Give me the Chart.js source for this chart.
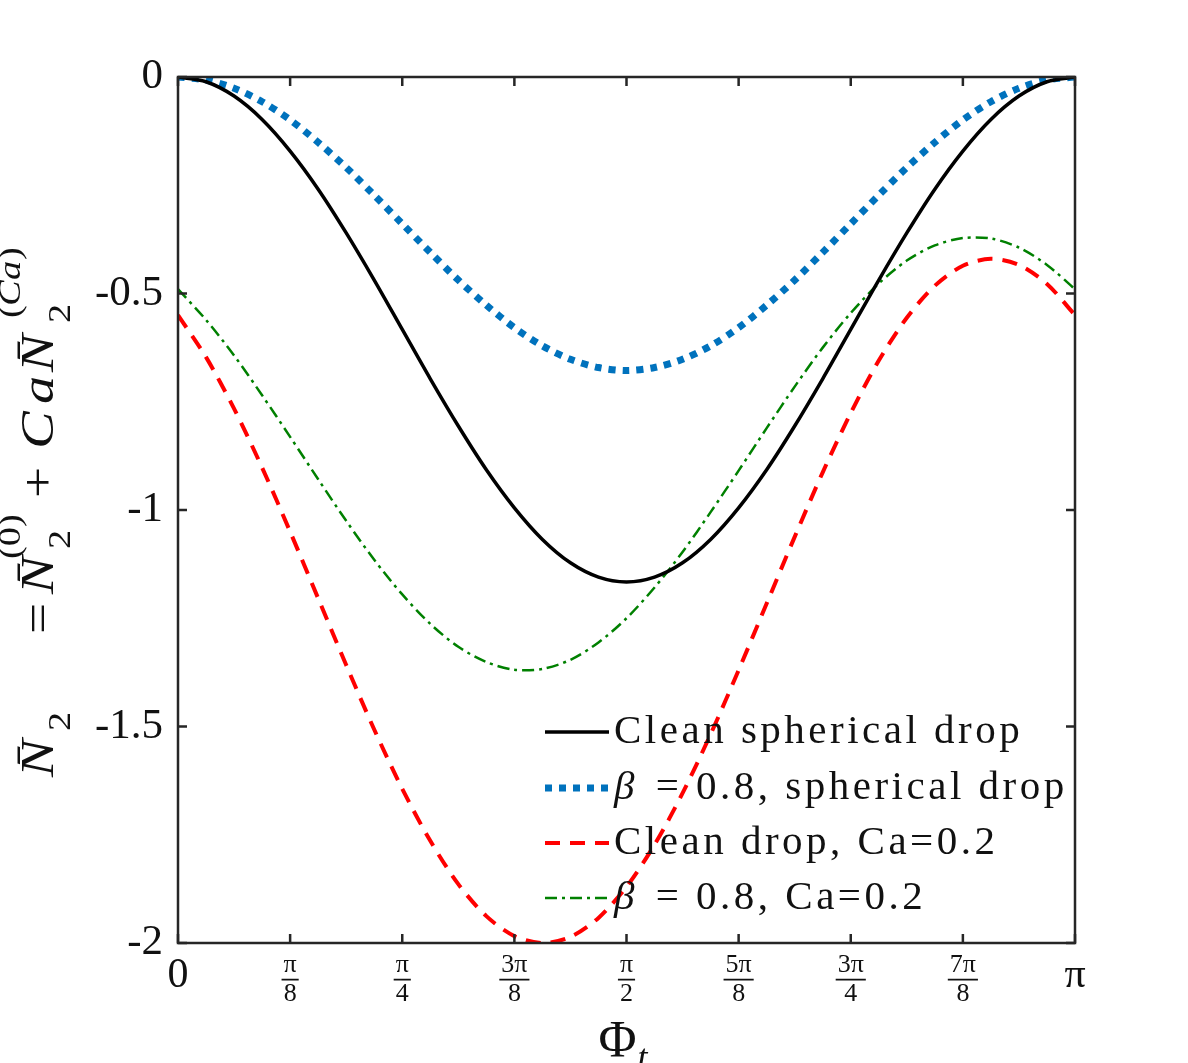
<!DOCTYPE html>
<html>
<head>
<meta charset="utf-8">
<script src="https://cdn.jsdelivr.net/npm/chart.js@4"></script>
<style>
  html, body { margin: 0; padding: 0; background: #fff; }
</style>
</head>
<body>
<canvas id="normalStressChart" width="1188" height="1063"></canvas>
<script>
// Phi_t in units of pi
const phiOverPi = [
  0, 0.03125, 0.0625, 0.09375, 0.125, 0.15625, 0.1875, 0.21875, 0.25,
  0.28125, 0.3125, 0.34375, 0.375, 0.40625, 0.4375, 0.46875, 0.5,
  0.53125, 0.5625, 0.59375, 0.625, 0.65625, 0.6875, 0.71875, 0.75,
  0.78125, 0.8125, 0.84375, 0.875, 0.90625, 0.9375, 0.96875, 1
];

const cleanSpherical = [
  0, -0.011, -0.044, -0.098, -0.171, -0.259, -0.360, -0.469, -0.583,
  -0.697, -0.806, -0.907, -0.995, -1.068, -1.122, -1.155, -1.166,
  -1.155, -1.122, -1.068, -0.995, -0.907, -0.806, -0.697, -0.583,
  -0.469, -0.360, -0.259, -0.171, -0.098, -0.044, -0.011, 0
];

const betaSpherical = [
  0, -0.007, -0.026, -0.057, -0.099, -0.151, -0.209, -0.273, -0.339,
  -0.405, -0.469, -0.527, -0.579, -0.621, -0.652, -0.671, -0.678,
  -0.671, -0.652, -0.621, -0.579, -0.527, -0.469, -0.405, -0.339,
  -0.273, -0.209, -0.151, -0.099, -0.057, -0.026, -0.007, 0
];

const cleanCa = [
  -0.550, -0.647, -0.766, -0.902, -1.050, -1.204, -1.358, -1.507, -1.644,
  -1.764, -1.864, -1.938, -1.984, -2.000, -1.986, -1.942, -1.870,
  -1.773, -1.654, -1.518, -1.370, -1.216, -1.062, -0.913, -0.776,
  -0.655, -0.556, -0.482, -0.436, -0.420, -0.434, -0.478, -0.550
];

const betaCa = [
  -0.490, -0.561, -0.643, -0.735, -0.831, -0.929, -1.025, -1.115, -1.195,
  -1.263, -1.316, -1.351, -1.369, -1.367, -1.346, -1.306, -1.250,
  -1.179, -1.097, -1.005, -0.909, -0.811, -0.715, -0.625, -0.545,
  -0.477, -0.424, -0.389, -0.372, -0.373, -0.394, -0.434, -0.490
];

const xTickValues = [0, 0.125, 0.25, 0.375, 0.5, 0.625, 0.75, 0.875, 1];
const xTickLabels = ['0', ['π', '8'], ['π', '4'], ['3π', '8'], ['π', '2'], ['5π', '8'], ['3π', '4'], ['7π', '8'], 'π'];
const yTickValues = [-2, -1.5, -1, -0.5, 0];
const yTickLabels = ['-2', '-1.5', '-1', '-0.5', '0'];

const serif = "'Liberation Serif', 'Times New Roman', serif";
const axisColor = '#262626';
const textColor = '#111';

function pts(ys) {
  return ys.map((v, i) => ({ x: phiOverPi[i], y: v }));
}

// y label pieces: text, font, offset along the axis, shift off the baseline
const R = (s) => s + 'px ' + serif;
const I = (s) => 'italic ' + s + 'px ' + serif;
const yTitle = [
  { t: 'N̄', f: I(47), at: 0, dy: 0 },
  { t: '2', f: R(32), at: 46, dy: 17 },
  { t: '=', f: R(46), at: 143, dy: 0 },
  { t: 'N̄', f: I(47), at: 183, dy: 0 },
  { t: '2', f: R(32), at: 228, dy: 17 },
  { t: '(0)', f: R(32), at: 218, dy: -33 },
  { t: '+', f: R(46), at: 279, dy: 0 },
  { t: 'C', f: I(47), at: 328, dy: 0 },
  { t: 'a', f: I(47), at: 373, dy: 0 },
  { t: 'N̄', f: I(47), at: 405, dy: 0 },
  { t: '2', f: R(32), at: 454, dy: 17 },
  { t: '(', f: R(32), at: 459, dy: -33 },
  { t: 'C', f: I(32), at: 471, dy: -33 },
  { t: 'a', f: I(32), at: 497, dy: -33 },
  { t: ')', f: R(32), at: 517, dy: -33 },
];

// box, inward ticks on all four sides, fraction bars, axis labels
const boxPlugin = {
  id: 'box',
  afterDraw(chart) {
    const { ctx, chartArea: a, scales: { x, y } } = chart;
    ctx.save();
    ctx.strokeStyle = axisColor;
    ctx.lineWidth = 2.5;
    ctx.strokeRect(a.left, a.top, a.right - a.left, a.bottom - a.top);
    ctx.beginPath();
    x.ticks.forEach((t) => {
      const px = x.getPixelForValue(t.value);
      ctx.moveTo(px, a.bottom); ctx.lineTo(px, a.bottom - 9);
      ctx.moveTo(px, a.top); ctx.lineTo(px, a.top + 9);
    });
    y.ticks.forEach((t) => {
      const py = y.getPixelForValue(t.value);
      ctx.moveTo(a.left, py); ctx.lineTo(a.left + 9, py);
      ctx.moveTo(a.right, py); ctx.lineTo(a.right - 9, py);
    });
    ctx.stroke();

    ctx.font = R(26);
    ctx.lineWidth = 1.8;
    ctx.strokeStyle = textColor;
    ctx.beginPath();
    x.ticks.forEach((t, i) => {
      const lab = xTickLabels[i];
      if (!Array.isArray(lab)) return;
      const w = Math.max(ctx.measureText(lab[0]).width, ctx.measureText(lab[1]).width) + 4;
      const px = x.getPixelForValue(t.value);
      const py = a.bottom + 8 + 28.6;
      ctx.moveTo(px - w / 2, py); ctx.lineTo(px + w / 2, py);
    });
    ctx.stroke();

    // x axis label: Phi_t
    ctx.fillStyle = textColor;
    ctx.textAlign = 'left';
    ctx.textBaseline = 'alphabetic';
    const cx = (a.left + a.right) / 2;
    ctx.font = R(52);
    ctx.fillText('Φ', cx - 28, 1057);
    ctx.font = I(36);
    ctx.fillText('t', cx + 11, 1069);

    // y axis label, rotated; glyphs widened a little to follow the LaTeX look
    ctx.translate(53, 777);
    ctx.rotate(-Math.PI / 2);
    yTitle.forEach((p) => {
      ctx.save();
      ctx.translate(p.at, p.dy);
      ctx.scale(1.2, 1);
      ctx.font = p.f;
      ctx.fillText(p.t, 0, 0);
      ctx.restore();
    });
    ctx.restore();
  }
};

// legend drawn inside the axes, lower right, no frame
const legendPlugin = {
  id: 'innerLegend',
  afterDraw(chart) {
    const { ctx } = chart;
    const rowsY = [732, 788, 843, 898];
    ctx.save();
    ctx.textBaseline = 'middle';
    ctx.textAlign = 'left';
    chart.data.datasets.forEach((ds, i) => {
      const yy = rowsY[i];
      ctx.beginPath();
      ctx.strokeStyle = ds.borderColor;
      ctx.lineWidth = ds.borderWidth;
      ctx.setLineDash(ds.borderDash || []);
      ctx.moveTo(545, yy); ctx.lineTo(609, yy);
      ctx.stroke();
      ctx.setLineDash([]);
      ctx.fillStyle = textColor;
      ctx.letterSpacing = '3.5px';
      let tx = 614;
      let text = ds.label;
      if (text.startsWith('β')) {
        ctx.font = I(41);
        ctx.fillText('β', tx, yy);
        tx += ctx.measureText('β').width + 4;
        text = text.slice(1);
      }
      ctx.font = R(41);
      ctx.fillText(text, tx, yy);
    });
    ctx.letterSpacing = '0px';
    ctx.restore();
  }
};

const ctx = document.getElementById('normalStressChart').getContext('2d');
const chart = new Chart(ctx, {
  type: 'line',
  data: {
    datasets: [
      {
        label: 'Clean spherical drop',
        data: pts(cleanSpherical),
        borderColor: '#000000',
        borderWidth: 3.5,
        pointRadius: 0,
        tension: 0.3,
      },
      {
        label: 'β = 0.8, spherical drop',
        data: pts(betaSpherical),
        borderColor: '#0072BD',
        borderWidth: 7,
        borderDash: [7, 7],
        pointRadius: 0,
        tension: 0.3,
      },
      {
        label: 'Clean drop, Ca=0.2',
        data: pts(cleanCa),
        borderColor: '#FF0000',
        borderWidth: 4,
        borderDash: [15, 10],
        pointRadius: 0,
        tension: 0.3,
      },
      {
        label: 'β = 0.8, Ca=0.2',
        data: pts(betaCa),
        borderColor: '#008000',
        borderWidth: 2.5,
        borderDash: [12, 5, 3, 5],
        pointRadius: 0,
        tension: 0.3,
      },
    ],
  },
  options: {
    responsive: false,
    animation: false,
    layout: { padding: { top: 77, right: 113, left: 0, bottom: 0 } },
    plugins: {
      legend: { display: false },
      tooltip: { enabled: false },
    },
    scales: {
      x: {
        type: 'linear',
        min: 0,
        max: 1,
        grid: { display: false, drawTicks: false, tickLength: 0 },
        border: { display: false },
        afterFit: (s) => { s.height = 120; },
        afterBuildTicks: (s) => { s.ticks = xTickValues.map((v) => ({ value: v })); },
        ticks: {
          padding: 8,
          color: textColor,
          maxRotation: 0,
          autoSkip: false,
          font: (c) => (c.index === 0 || c.index === 8
            ? { family: serif, size: 42, lineHeight: 1.2 }
            : { family: serif, size: 26, lineHeight: 1.1 }),
          callback: (v, i) => xTickLabels[i],
        },
      },
      y: {
        type: 'linear',
        min: -2,
        max: 0,
        grid: { display: false, drawTicks: false, tickLength: 0 },
        border: { display: false },
        afterFit: (s) => { s.width = 178; },
        afterBuildTicks: (s) => { s.ticks = yTickValues.map((v) => ({ value: v })); },
        ticks: {
          padding: 15,
          color: textColor,
          font: { family: serif, size: 43 },
          callback: (v, i) => yTickLabels[i],
        },
      },
    },
  },
  plugins: [boxPlugin, legendPlugin],
});
</script>
</body>
</html>
